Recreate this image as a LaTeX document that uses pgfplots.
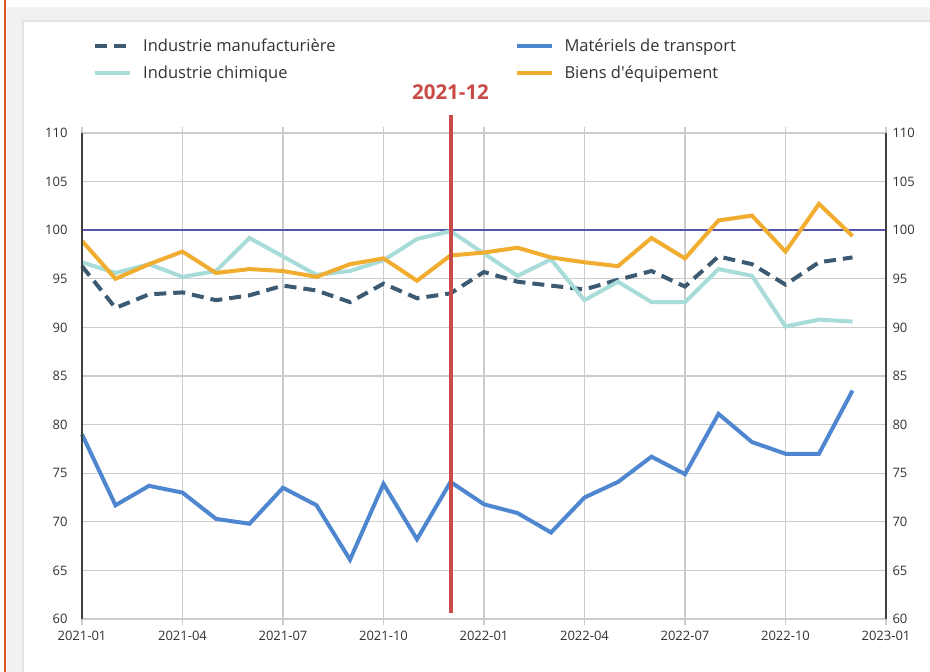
\documentclass[border=0pt]{standalone}
\usepackage{pgfplots}
\pgfplotsset{compat=1.18}
\usepackage{fontspec}
\setmainfont{Open Sans}
\definecolor{manuf}{HTML}{3D5A73}
\definecolor{transp}{HTML}{4F86D0}
\definecolor{chim}{HTML}{A8DCD9}
\definecolor{biens}{HTML}{F0AD30}
\definecolor{redline}{HTML}{C84B47}
\definecolor{refline}{HTML}{5555B0}
\definecolor{orangeborder}{HTML}{D9541E}
\definecolor{bggray}{HTML}{F1F1F1}
\definecolor{panelborder}{HTML}{E3E3E3}
\definecolor{gridgray}{HTML}{CCCCCC}
\definecolor{ticktext}{HTML}{333333}

\pgfplotstableread{
x manuf transp chim biens
0 96.3 79.0 96.7 98.9
1 92.0 71.7 95.6 95.0
2 93.4 73.7 96.5 96.5
3 93.6 73.0 95.2 97.8
4 92.8 70.3 95.8 95.6
5 93.3 69.8 99.2 96.0
6 94.3 73.5 97.3 95.8
7 93.8 71.7 95.4 95.2
8 92.6 66.1 95.8 96.5
9 94.5 73.9 96.9 97.1
10 93.0 68.2 99.1 94.8
11 93.5 74.1 99.9 97.4
12 95.7 71.8 97.6 97.7
13 94.7 70.9 95.3 98.2
14 94.3 68.9 97.0 97.2
15 93.9 72.5 92.8 96.7
16 94.9 74.1 94.7 96.3
17 95.8 76.7 92.6 99.2
18 94.2 74.9 92.6 97.1
19 97.3 81.1 96.0 101.0
20 96.5 78.2 95.3 101.5
21 94.4 77.0 90.1 97.8
22 96.7 77.0 90.8 102.7
23 97.2 83.5 90.6 99.4
}\datatable

\begin{document}
\begin{tikzpicture}[x=1pt,y=1pt]
\useasboundingbox (0,0) rectangle (930,672);
\fill[white] (0,0) rectangle (930,672);
\fill[bggray] (7,0) rectangle (930,665);
\fill[white] (23,0) rectangle (930,651);
\draw[panelborder, line width=1.5pt] (23,0) -- (23,651) -- (930,651);
\draw[orangeborder, line width=2pt] (5,0) -- (5,672);

\begin{axis}[
  at={(82pt,53pt)}, anchor=south west,
  width=804pt, height=486pt, scale only axis,
  xmin=0, xmax=24, ymin=60, ymax=110,
  xtick={0,3,...,24},
  xticklabels={2021-01,2021-04,2021-07,2021-10,2022-01,2022-04,2022-07,2022-10,2023-01},
  ytick={60,65,...,110},
  grid=major,
  grid style={gridgray, line width=1.2pt},
  axis line style={draw=none},
  tick align=outside,
  major tick length=6pt,
  xtick style={gridgray, line width=1.2pt},
  ytick style={draw=none},
  ticklabel style={font=\fontsize{13}{15}\selectfont, text=ticktext},
  /pgf/number format/assume math mode=true,
  yticklabel style={xshift=-5pt},
  xticklabel style={yshift=-3pt},
  clip=false,
  legend columns=2,
  legend cell align=left,
  legend style={at={(0.01,1.202)}, anchor=north west, draw=none, fill=none,
    font=\fontsize{16.5}{19}\selectfont, text=ticktext,
    row sep=9pt,
    /tikz/column 2/.style={column sep=177pt}},
  legend image code/.code={\draw[#1] (0pt,0pt) -- (35pt,0pt); \path (44pt,0pt);},
]
\addplot[forget plot, refline, line width=2pt] coordinates {(0,100) (24,100)};
\addplot[manuf, line width=4pt, dash pattern=on 12pt off 7pt] table[x=x,y=manuf] {\datatable};
\addlegendentry{Industrie manufacturière}
\addplot[transp, line width=4pt] table[x=x,y=transp] {\datatable};
\addlegendentry{Matériels de transport}
\addplot[chim, line width=4pt] table[x=x,y=chim] {\datatable};
\addlegendentry{Industrie chimique}
\addplot[biens, line width=4pt] table[x=x,y=biens] {\datatable};
\addlegendentry{Biens d\textquotesingle équipement}
\addplot[forget plot, redline, line width=4pt] coordinates {(11,60.6) (11,111.85)};
\draw[black!75, line width=1.2pt] (rel axis cs:0,0) -- (rel axis cs:0,1);
\draw[black!75, line width=1.2pt] (rel axis cs:1,0) -- (rel axis cs:1,1);
\node[text=redline, font=\bfseries\fontsize{20.5}{24}\selectfont] at (axis cs:11,114.2) {2021-12};
\end{axis}

\begin{axis}[
  at={(82pt,53pt)}, anchor=south west,
  width=804pt, height=486pt, scale only axis,
  xmin=0, xmax=24, ymin=60, ymax=110,
  hide x axis,
  axis y line*=right,
  axis line style={draw=none},
  ytick={60,65,...,110},
  ytick style={draw=none},
  yticklabel style={font=\fontsize{13}{15}\selectfont, text=ticktext, xshift=3pt},
  /pgf/number format/assume math mode=true,
]
\end{axis}
\end{tikzpicture}
\end{document}
